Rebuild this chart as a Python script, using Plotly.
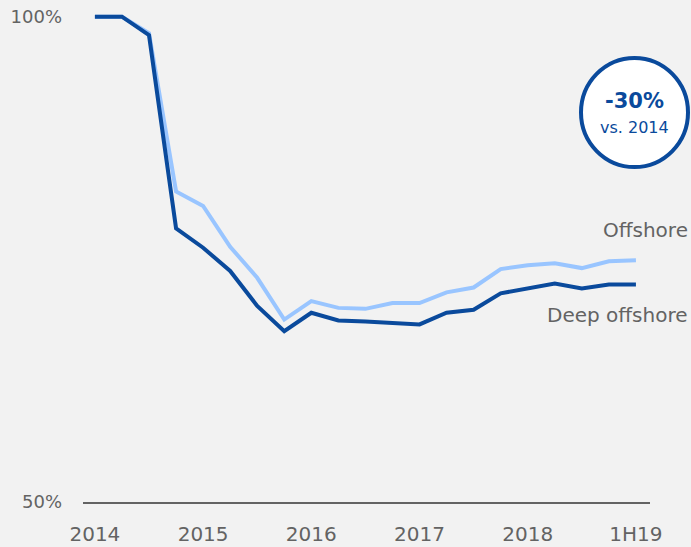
import plotly.graph_objects as go

# Quarterly index, 2014 Q1 = 100%
quarters = list(range(21))
tick_positions = [0, 4, 8, 12, 16, 20]
tick_labels = ["2014", "2015", "2016", "2017", "2018", "1H19"]

offshore = [100, 100, 98.3, 82.0, 80.5, 76.3, 73.1, 68.8, 70.7, 70.0, 69.9,
            70.5, 70.5, 71.6, 72.1, 74.0, 74.4, 74.6, 74.1, 74.8, 74.9]
deep_offshore = [100, 100, 98.1, 78.2, 76.2, 73.8, 70.2, 67.6, 69.5, 68.7, 68.6,
                 68.5, 68.3, 69.5, 69.8, 71.5, 72.0, 72.5, 72.0, 72.4, 72.4]

DARK = "#0a4a9c"
LIGHT = "#99c5ff"
GREY = "#636363"
FONT = "DejaVu Sans"

fig = go.Figure()
fig.add_trace(go.Scatter(x=quarters, y=offshore, mode="lines", name="Offshore",
                         line=dict(color=LIGHT, width=4)))
fig.add_trace(go.Scatter(x=quarters, y=deep_offshore, mode="lines", name="Deep offshore",
                         line=dict(color=DARK, width=4)))

# Series labels
fig.add_annotation(x=1, xref="paper", xanchor="right", xshift=40, y=offshore[-1] + 3.1,
                   text="Offshore", showarrow=False,
                   font=dict(family=FONT, size=20, color=GREY))
fig.add_annotation(x=1, xref="paper", xanchor="right", xshift=40, y=deep_offshore[-1] - 3.1,
                   text="Deep offshore", showarrow=False,
                   font=dict(family=FONT, size=20, color=GREY))

# Badge with overall change
cx = (634.5 - 83) / 567
fig.add_shape(type="circle", xref="paper", yref="paper",
              x0=(581 - 83) / 567, x1=(688 - 83) / 567,
              y0=(502 - 167) / 495, y1=(502 - 58) / 495,
              fillcolor="white", line=dict(color=DARK, width=4), layer="above")
fig.add_annotation(x=cx, xref="paper", xanchor="center",
                   y=(502 - 101) / 495, yref="paper", yanchor="middle",
                   text="<b>-30%</b>", showarrow=False,
                   font=dict(family=FONT, size=21, color=DARK))
fig.add_annotation(x=cx, xref="paper", xanchor="center",
                   y=(502 - 127) / 495, yref="paper", yanchor="middle",
                   text="vs. 2014", showarrow=False,
                   font=dict(family=FONT, size=16, color=DARK))

fig.update_layout(
    width=691, height=547,
    margin=dict(l=83, r=41, t=7, b=45, autoexpand=False),
    paper_bgcolor="#f2f2f2", plot_bgcolor="#f2f2f2",
    showlegend=False,
    xaxis=dict(range=[-0.44, 20.52], tickmode="array", tickvals=tick_positions,
               ticktext=tick_labels, showgrid=False, zeroline=False,
               showline=True, linecolor=GREY, linewidth=2, ticks="",
               ticklabelstandoff=13, automargin=False,
               tickfont=dict(family=FONT, size=20, color=GREY)),
    yaxis=dict(range=[50, 101], tickmode="array", tickvals=[50, 100],
               ticktext=["50%", "100%"], showgrid=False, zeroline=False,
               showline=False, ticks="", ticklabelstandoff=20, automargin=False,
               tickfont=dict(family=FONT, size=18, color=GREY)),
)

fig.write_html("out.html")
